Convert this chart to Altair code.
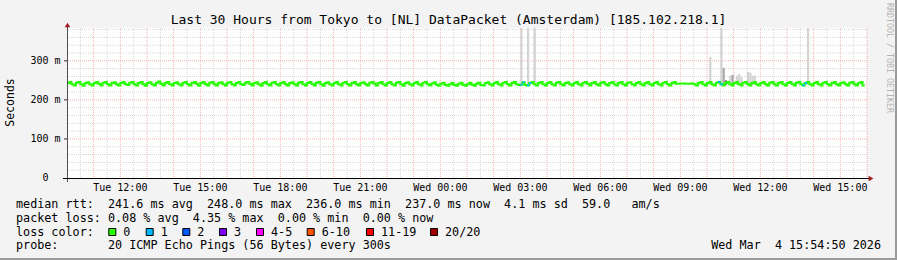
import altair as alt
import pandas as pd

# ---------------- data ----------------
# median RTT in ms, one value per 5-minute step, first step starts Tue 09:55
median_ms = [
    # Tue 09:55 - 11:50
    237,243,246,240, 237,244,246,240, 236,243,245,240, 237,243,246,241, 237,244,246,240, 237,243,245,240,
    # Tue 11:55 - 13:50
    237,243,246,240, 238,244,246,240, 237,243,246,240, 236,243,245,240, 237,244,247,241, 237,243,246,240,
    # Tue 13:55 - 15:50
    237,243,245,240, 237,244,246,240, 237,243,246,241, 236,243,246,240, 237,244,246,240, 237,243,245,240,
    # Tue 15:55 - 17:50
    237,244,246,240, 237,243,246,240, 238,244,246,241, 237,243,245,240, 236,243,246,240, 237,244,246,240,
    # Tue 17:55 - 19:50
    237,243,246,240, 237,243,245,240, 237,244,246,240, 237,243,246,241, 237,244,246,240, 236,243,245,240,
    # Tue 19:55 - 21:50
    237,243,246,240, 237,244,246,240, 237,243,246,240, 237,243,245,240, 237,244,246,241, 237,243,246,240,
    # Tue 21:55 - 23:50
    237,243,246,240, 237,244,246,240, 236,243,245,240, 237,243,246,240, 237,244,246,240, 237,242,245,239,
    # Tue 23:55 - Wed 01:50
    236,241,244,238, 236,240,243,238, 236,241,244,238, 236,240,244,239, 236,241,244,238, 237,243,245,240,
    # Wed 01:55 - 03:50
    237,243,246,240, 237,244,246,240, 237,243,246,240, 238,239,245,238, 237,243,246,240, 237,243,246,240,
    # Wed 03:55 - 05:50
    237,243,246,240, 237,244,246,240, 237,243,245,240, 237,243,246,240, 237,244,246,241, 237,243,246,240,
    # Wed 05:55 - 07:50
    237,244,246,240, 237,243,246,240, 237,243,246,240, 237,244,245,240, 237,243,246,240, 237,243,246,240,
    # Wed 07:55 - 09:50
    237,243,246,240, 237,244,246,240, 237,243,246,241, 241,242,242,241, 241,241,242,240, 237,243,246,240,
    # Wed 09:55 - 11:50
    237,243,246,240, 237,244,246,240, 237,243,246,240, 237,243,246,240, 237,244,246,240, 237,243,246,240,
    # Wed 11:55 - 13:50
    237,243,246,240, 237,244,246,240, 237,243,246,240, 237,243,246,241, 237,244,246,240, 237,243,246,240,
    # Wed 13:55 - 15:50
    237,243,246,240, 237,244,246,240, 237,243,246,240, 237,243,245,240, 237,244,246,240, 237,243,246,237,
]

# steps that lost 1 of 20 pings (drawn in the "1" colour)
loss1_steps = [205, 206, 208, 209, 294, 295, 332, 333]

# smoke (ping spread) spikes: step, top of spread (ms), shade level
smoke_steps = [205, 208, 211, 290, 295, 296, 297, 299, 300, 302, 303, 304, 307, 308, 309, 310, 334]
smoke_top   = [400, 400, 400, 310, 400, 282, 250, 262, 264, 262, 266, 258, 272, 270, 262, 262, 400]
smoke_shade = [1,   1,   1,   1,   1,   2,   3,   1,   2,   1,   1,   1,   1,   1,   1,   1,   1]
smoke_low = 238

# axis ticks
x_tick_hours  = [12, 15, 18, 21, 24, 27, 30, 33, 36, 39]
x_tick_labels = ["Tue 12:00", "Tue 15:00", "Tue 18:00", "Tue 21:00", "Wed 00:00",
                 "Wed 03:00", "Wed 06:00", "Wed 09:00", "Wed 12:00", "Wed 15:00"]
y_tick_values = [0, 100, 200, 300]
y_tick_labels = ["0  ", "100 m", "200 m", "300 m"]

# legend content
loss_labels = ["0", "1", "2", "3", "4-5", "6-10", "11-19", "20/20"]
loss_colors = ["#26ff00", "#00b8ff", "#0059ff", "#7e00ff", "#ff00ff", "#ff5500", "#ff0000", "#a10000"]

title_text = "Last 30 Hours from Tokyo to [NL] DataPacket (Amsterdam) [185.102.218.1]"
line1 = "median rtt:  241.6 ms avg  248.0 ms max  236.0 ms min  237.0 ms now  4.1 ms sd  59.0   am/s"
line2 = "packet loss: 0.08 % avg  4.35 % max  0.00 % min  0.00 % now"
line3 = "loss color:"
line4 = "probe:       20 ICMP Echo Pings (56 Bytes) every 300s"
stamp = "Wed Mar  4 15:54:50 2026"
watermark = "RRDTOOL / TOBI OETIKER"

# ---------------- layout / style ----------------
W, H = 800, 150
PAD_L, PAD_T = 67, 28
FONT = "DejaVu Sans Mono"
BG = "#f3f3f3"
LEG_SIZE = 11.75
x_dom = [10, 40]
y_dom = [0, 384]
xs = alt.Scale(domain=x_dom, nice=False, zero=False)
ys = alt.Scale(domain=y_dom, nice=False, zero=False)


def keep_spaces(s):
    return s.replace(" ", "\u00a0")


STEP_H = 1 / 12
START_H = 9 + 55 / 60

df = pd.DataFrame({"v": median_ms})
df["t"] = START_H + df.index * STEP_H
df["t2"] = df["t"] + STEP_H
line_df = pd.concat([df[["t", "v"]],
                     pd.DataFrame({"t": [df["t2"].iloc[-1]], "v": [median_ms[-1]]})],
                    ignore_index=True)
blue_df = df.loc[loss1_steps]
smoke_df = pd.DataFrame({"step": smoke_steps, "top": smoke_top, "shade": smoke_shade})
smoke_df["t"] = START_H + smoke_df["step"] * STEP_H
smoke_df["t2"] = smoke_df["t"] + STEP_H
smoke_df["low"] = smoke_low

one = pd.DataFrame({"a": [0]})

# grid
xg_minor = pd.DataFrame({"h": [h + 0.5 for h in range(10, 40)]})
xg_major = pd.DataFrame({"h": list(range(11, 41))})
yg_minor = pd.DataFrame({"y": [v for v in range(20, 384, 20) if v % 100]})
yg_major = pd.DataFrame({"y": [100, 200, 300]})
GRID_MINOR = "#d6d6d6"
GRID_MAJOR = "#f7b0b0"

grid = [
    alt.Chart(xg_minor).mark_rule(color=GRID_MINOR, strokeDash=[1, 1], strokeWidth=1)
    .encode(x=alt.X("h:Q", scale=xs, axis=None)),
    alt.Chart(yg_minor).mark_rule(color=GRID_MINOR, strokeDash=[1, 1], strokeWidth=1)
    .encode(y=alt.Y("y:Q", scale=ys, axis=None)),
    alt.Chart(xg_major).mark_rule(color=GRID_MAJOR, strokeDash=[1, 1], strokeWidth=1)
    .encode(x=alt.X("h:Q", scale=xs, axis=None)),
    alt.Chart(yg_major).mark_rule(color=GRID_MAJOR, strokeDash=[1, 1], strokeWidth=1)
    .encode(y=alt.Y("y:Q", scale=ys, axis=None)),
]

smoke = alt.Chart(smoke_df).mark_rect(clip=True).encode(
    x=alt.X("t:Q", scale=xs, axis=None), x2="t2",
    y=alt.Y("low:Q", scale=ys, axis=None), y2="top",
    color=alt.Color("shade:O", scale=alt.Scale(domain=[1, 2, 3], range=["#d4d4d4", "#a8a8a8", "#6e6e6e"]),
                    legend=None),
)

median_line = alt.Chart(line_df).mark_line(interpolate="step-after", color="#26ff00",
                                           strokeWidth=2, clip=True).encode(
    x=alt.X("t:Q", scale=xs, axis=None), y=alt.Y("v:Q", scale=ys, axis=None))

blue = alt.Chart(blue_df).mark_rule(color="#00b8ff", strokeWidth=2, clip=True).encode(
    x=alt.X("t:Q", scale=xs, axis=None), x2="t2", y=alt.Y("v:Q", scale=ys, axis=None))

# axes
AX = "#303030"
ARROW = "#a01818"
y_axis_line = alt.Chart(one).mark_rule(color="#505050", strokeWidth=1).encode(
    x=alt.value(0.5), y=alt.value(H + 4), y2=alt.value(-3))
x_axis_line = alt.Chart(one).mark_rule(color="#000000", strokeWidth=1).encode(
    x=alt.value(-4), x2=alt.value(W + 3), y=alt.value(H + 0.5))
y_arrow = alt.Chart(one).mark_point(shape="triangle-up", filled=True, color=ARROW, size=30, opacity=1).encode(
    x=alt.value(0.5), y=alt.value(-3))
x_arrow = alt.Chart(one).mark_point(shape="triangle-right", filled=True, color=ARROW, size=30, opacity=1).encode(
    x=alt.value(W + 4), y=alt.value(H + 0.5))

ytick_df = pd.DataFrame({"y": y_tick_values[1:]})
y_ticks = alt.Chart(ytick_df).mark_rule(color=AX).encode(
    y=alt.Y("y:Q", scale=ys, axis=None), x=alt.value(-3), x2=alt.value(0))

CHAR_W10 = 6.02
ylab_df = pd.DataFrame({"y": y_tick_values, "label": [s.rstrip() for s in y_tick_labels]})
ylab_df["xoff"] = [-6.5 - CHAR_W10 * (len(s) - len(s.rstrip())) for s in y_tick_labels]
y_labels = alt.Chart(ylab_df).mark_text(font=FONT, fontSize=10, align="right", baseline="middle",
                                        color="#000000").encode(
    y=alt.Y("y:Q", scale=ys, axis=None), x=alt.X("xoff:Q", scale=None), text="label:N")

xlab_df = pd.DataFrame({"h": x_tick_hours, "label": [keep_spaces(s) for s in x_tick_labels]})
x_labels = alt.Chart(xlab_df).mark_text(font=FONT, fontSize=10, align="center", baseline="alphabetic",
                                        color="#000000").encode(
    x=alt.X("h:Q", scale=xs, axis=None), y=alt.value(191 - PAD_T), text="label:N")


def txt(s, x, y, size=LEG_SIZE, align="left", color="#000000", angle=0, baseline="alphabetic"):
    kw = dict(font=FONT, fontSize=size, align=align, baseline=baseline, color=color, text=keep_spaces(s))
    if angle:
        kw["angle"] = angle
    return alt.Chart(one).mark_text(**kw).encode(x=alt.value(x - PAD_L), y=alt.value(y - PAD_T))


texts = [
    txt(title_text, 448.5, 24, size=13, align="center"),
    txt("Seconds", 11, 102.5, size=11.5, align="center", angle=270, baseline="middle"),
    txt(line1, 16, 207.7),
    txt(line2, 16, 221.7),
    txt(line3, 16, 235.7),
    txt(line4, 16, 249.3),
    txt(stamp, 881, 249.3, align="right"),
    txt(watermark, 889, 58, size=8.3, align="center", angle=90, color="#b4b4b4", baseline="middle"),
]

# loss colour legend
box_left = [108.3, 145.7, 182.3, 219, 256, 306.7, 366, 430]
leg_df = pd.DataFrame({"label": loss_labels, "color": loss_colors, "bx": box_left})
leg_df["bx0"] = leg_df["bx"] - PAD_L + 0.5
leg_df["bx1"] = leg_df["bx0"] + 7
leg_df["tx"] = leg_df["bx"] - PAD_L + 15
boxes = alt.Chart(leg_df).mark_rect(stroke="#000000", strokeWidth=1).encode(
    x=alt.X("bx0:Q", scale=None), x2="bx1",
    y=alt.value(228.5 - PAD_T), y2=alt.value(235.5 - PAD_T),
    color=alt.Color("color:N", scale=None))
box_labels = alt.Chart(leg_df).mark_text(font=FONT, fontSize=LEG_SIZE, align="left", baseline="alphabetic",
                                         color="#000000").encode(
    x=alt.X("tx:Q", scale=None), y=alt.value(235.7 - PAD_T), text="label:N")

# frame shading of the image border
frame = [
    alt.Chart(one).mark_rule(color="#9a9a9a", strokeWidth=2).encode(
        x=alt.value(-PAD_L), x2=alt.value(897 - PAD_L), y=alt.value(259 - PAD_T)),
    alt.Chart(one).mark_rule(color="#9a9a9a", strokeWidth=2).encode(
        x=alt.value(896 - PAD_L), y=alt.value(-PAD_T), y2=alt.value(260 - PAD_T)),
]

chart = alt.layer(
    *grid, smoke, median_line, blue,
    y_ticks, y_axis_line, x_axis_line, y_arrow, x_arrow,
    y_labels, x_labels, *texts, boxes, box_labels, *frame,
).properties(
    width=W, height=H,
    padding={"left": PAD_L, "top": PAD_T, "right": 897 - PAD_L - W, "bottom": 260 - PAD_T - H},
    autosize=alt.AutoSizeParams(type="none"),
    background=BG,
).configure_view(fill="#ffffff", stroke=None)

chart.save("out.html", embed_options={"renderer": "svg", "actions": False})
